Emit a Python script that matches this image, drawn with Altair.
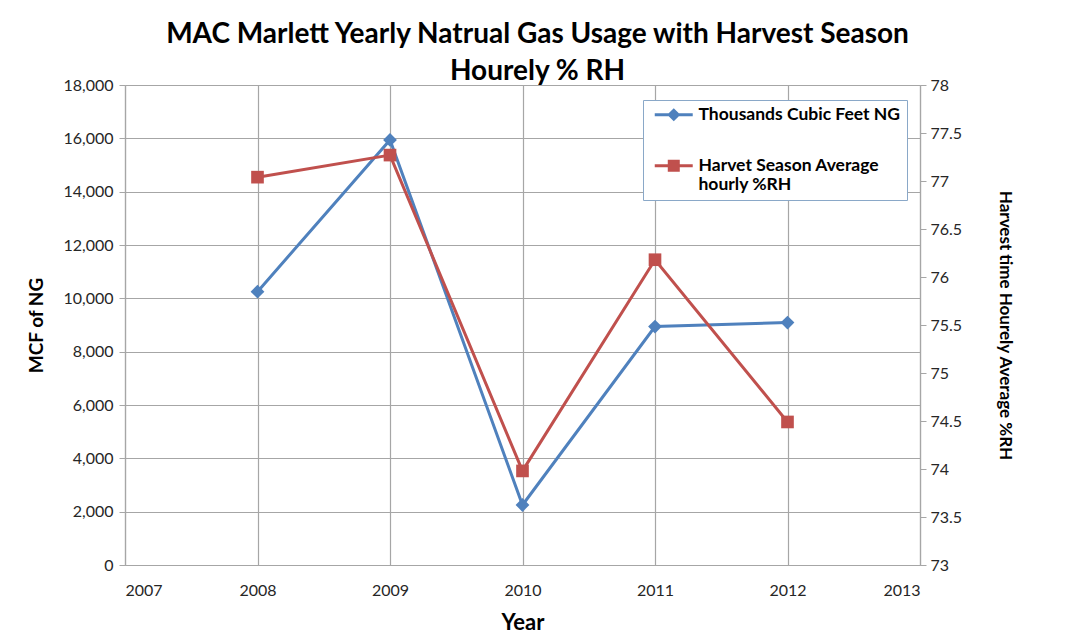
import altair as alt
import pandas as pd

years = [2008, 2009, 2010, 2011, 2012]
ng_mcf = [10250, 15940, 2250, 8940, 9090]
rh_avg = [77.04, 77.27, 73.98, 76.18, 74.49]
series_names = ["Thousands Cubic Feet NG", "Harvet Season Average|hourly %RH"]
x_ticks = [2007, 2008, 2009, 2010, 2011, 2012, 2013]
left_ticks = list(range(0, 18001, 2000))
right_ticks = [73, 73.5, 74, 74.5, 75, 75.5, 76, 76.5, 77, 77.5, 78]

BLUE = "#4f81bd"
RED = "#c0504d"
FONT = "Lato"

df = pd.DataFrame({"year": years, "ng": ng_mcf, "rh": rh_avg})
legend_df = pd.DataFrame({"series": series_names})

x_enc = alt.X(
    "year:Q",
    scale=alt.Scale(domain=[2007, 2013], nice=False, zero=False),
    axis=alt.Axis(values=x_ticks, format="d", title="Year", grid=True),
)

blue = alt.Chart(df).mark_line(
    color=BLUE, strokeWidth=3,
    point=alt.OverlayMarkDef(shape="diamond", filled=True, size=190, color=BLUE, opacity=1),
).encode(
    x=x_enc,
    y=alt.Y("ng:Q", scale=alt.Scale(domain=[0, 18000], nice=False),
            axis=alt.Axis(values=left_ticks, format=",d", title="MCF of NG",
                          orient="left", grid=True)),
)

red = alt.Chart(df).mark_line(
    color=RED, strokeWidth=3,
    point=alt.OverlayMarkDef(shape="square", filled=True, size=160, color=RED, opacity=1),
).encode(
    x=x_enc,
    y=alt.Y("rh:Q", scale=alt.Scale(domain=[73, 78], nice=False, zero=False),
            axis=alt.Axis(values=right_ticks, title="Harvest time Hourely Average %RH",
                          orient="right", grid=False, titleAngle=90,
                          titleFontSize=17, titlePadding=34, labelExpr="datum.value + ''")),
)

# legend symbols: a line segment with a marker in its middle (units of 6px)
diamond_path = "M-0.5,-0.25H5.83V0.25H-0.5Z M2.67,-1.1L3.77,0L2.67,1.1L1.57,0Z"
square_path = "M-0.5,-0.25H5.83V0.25H-0.5Z M1.67,-1H3.67V1H1.67Z"

legend_layer = alt.Chart(legend_df).mark_point(filled=True, opacity=1).encode(
    color=alt.Color("series:N", scale=alt.Scale(domain=series_names, range=[BLUE, RED]),
                    legend=alt.Legend(title=None, orient="none", legendX=518, legendY=15,
                                      labelExpr="split(datum.label, '|')",
                                      symbolSize=144, symbolStrokeWidth=0,
                                      labelFontSize=17.5, labelFontWeight="bold",
                                      labelFont=FONT, labelColor="#000000",
                                      labelLimit=300, rowPadding=32, gridAlign="none",
                                      strokeColor="#8aa8c8", fillColor="#ffffff",
                                      padding=6, labelOffset=32)),
    shape=alt.Shape("series:N", scale=alt.Scale(domain=series_names,
                                                range=[diamond_path, square_path]),
                    legend=None),
).transform_filter("false")

chart = alt.layer(blue, red, legend_layer).resolve_scale(
    y="independent"
).properties(
    width=795, height=480,
    title=alt.TitleParams(
        ["MAC Marlett Yearly Natrual Gas Usage with Harvest Season", "Hourely % RH"],
        fontSize=28, font=FONT, fontWeight="bold", color="#000000",
        anchor="middle", lineHeight=37, offset=-9, dx=15,
    ),
    padding={"left": 117, "top": 77, "right": 130, "bottom": 68},
    autosize=alt.AutoSizeParams(type="none"),
).configure_view(stroke=None).configure_axis(
    labelFont=FONT, labelFontSize=16, labelColor="#262626",
    titleFont=FONT, titleColor="#000000", titleFontWeight="bold",
    gridColor="#a6a6a6", gridWidth=1.2, domainColor="#a6a6a6", domainWidth=1.2,
    tickColor="#a6a6a6", tickSize=6, labelPadding=4,
).configure_axisX(
    titleFontSize=22, labelPadding=17, ticks=False, titlePadding=14,
).configure_axisLeft(
    titleFontSize=19, titlePadding=16, labelPadding=6,
)

chart.save("out.html", embed_options={"renderer": "svg", "actions": False})
